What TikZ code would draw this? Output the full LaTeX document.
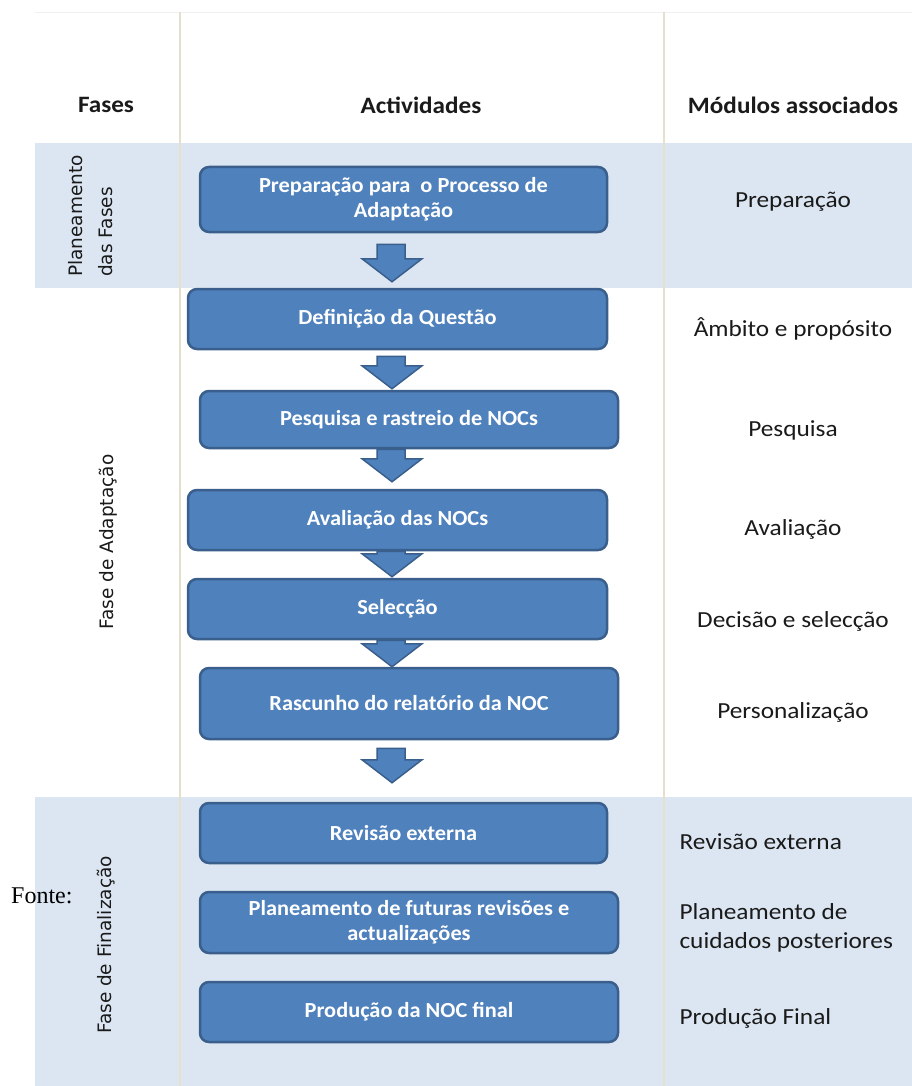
\documentclass[tikz,border=0pt]{standalone}
\usepackage{fontspec}
\setmainfont[FakeStretch=1.1]{Carlito}
\newfontfamily\boxfont[FakeStretch=1.04]{Carlito}
\newfontfamily\headfont[FakeStretch=1.07]{Carlito}
\newfontfamily\phasefont{DejaVu Sans}
\newfontfamily\seriffont{Liberation Serif}
\usetikzlibrary{calc}

\definecolor{band}{HTML}{DCE6F2}
\definecolor{boxfill}{HTML}{4F81BD}
\definecolor{boxline}{HTML}{3A5F8C}
\definecolor{rulecol}{HTML}{E6DFCB}
\definecolor{txt}{HTML}{1A1A1A}

\tikzset{
  stepbox/.style={draw=boxline, fill=boxfill, line width=2.5pt, rounded corners=9pt,
    text=white, font=\boxfont\bfseries\fontsize{21.5}{25}\selectfont, align=center, inner sep=0pt},
  flowarrow/.style={draw=boxline, fill=boxfill, line width=1.5pt, line join=miter},
  header/.style={font=\headfont\bfseries\fontsize{23.5}{27}\selectfont, text=txt},
  module/.style={font=\fontsize{23}{29}\selectfont, text=txt},
  phase/.style={font=\phasefont\fontsize{18.5}{30}\selectfont, text=txt, rotate=90, align=left},
}

% block arrow between two activity boxes: #3 = gap below the upper box, #4 = gap above the lower box
\newcommand\flowstep[4]{%
  \draw[flowarrow] let \p1=(#1.south), \p2=(#2.north) in
    (377pt,{\y1-#3pt}) -- (405pt,{\y1-#3pt}) -- (405pt,{\y2+#4pt+23pt})
    -- (422pt,{\y2+#4pt+23pt}) -- (392pt,{\y2+#4pt}) -- (362pt,{\y2+#4pt+23pt})
    -- (377pt,{\y2+#4pt+23pt}) -- cycle;}

\begin{document}
\begin{tikzpicture}[x=1pt, y=-1pt]
  \useasboundingbox (0,0) rectangle (912,1086);
  \fill[white] (0,0) rectangle (912,1086);

  % phase bands and column rules
  \fill[band] (35,143) rectangle (912,288);
  \fill[band] (35,797) rectangle (912,1086);
  \draw[black!6, line width=0.8pt] (35,12) -- (912,12);
  \draw[rulecol, line width=1.5pt] (180,12) -- (180,1086);
  \draw[rulecol, line width=1.5pt] (664,12) -- (664,1086);

  % column headers
  \node[header] (hfases) at (106,105) {Fases};
  \node[header] (hact) at (421,105) {Actividades};
  \node[header] (hmod) at (793,105) {Módulos associados};

  % phases
  \node[phase] (ph1) at (91,216) {Planeamento\\das Fases};
  \node[phase] (ph2) at (108,542) {Fase de Adaptação};
  \node[phase] (ph3) at (106,945) {Fase de Finalização};

  % activities
  \node[stepbox, minimum width=407, minimum height=65] (b1) at (403.5,199.5) {Preparação para \ o Processo de\\Adaptação};
  \node[stepbox, minimum width=419, minimum height=60] (b2) at (397.5,319) {Definição da Questão};
  \node[stepbox, minimum width=418, minimum height=57] (b3) at (409,419.5) {Pesquisa e rastreio de NOCs};
  \node[stepbox, minimum width=419, minimum height=60] (b4) at (397.5,520) {Avaliação das NOCs};
  \node[stepbox, minimum width=419, minimum height=60] (b5) at (397.5,609) {Selecção};
  \node[stepbox, minimum width=418, minimum height=71] (b6) at (409,703.5) {Rascunho do relatório da NOC};
  \node[stepbox, minimum width=407, minimum height=60] (b7) at (403.5,833) {Revisão externa};
  \node[stepbox, minimum width=418, minimum height=61] (b8) at (409,922.5) {Planeamento de futuras revisões e\\actualizações};
  \node[stepbox, minimum width=418, minimum height=60] (b9) at (409,1012) {Produção da NOC final};

  % flow arrows
  \flowstep{b1}{b2}{11}{6}
  \flowstep{b2}{b3}{6}{1}
  \flowstep{b3}{b4}{0}{7}
  \flowstep{b4}{b5}{0}{1}
  \flowstep{b5}{b6}{0}{0}
  \flowstep{b6}{b7}{8}{19}

  % associated modules
  \node[module] (m1) at (793,202) {Preparação};
  \node[module] (m2) at (793,329) {Âmbito e propósito};
  \node[module] (m3) at (793,430) {Pesquisa};
  \node[module] (m4) at (793,529) {Avaliação};
  \node[module] (m5) at (793,621) {Decisão e selecção};
  \node[module] (m6) at (793,712) {Personalização};
  \node[module, anchor=west] (m7) at (676,842) {Revisão externa};
  \node[module, anchor=west, align=left] (m8) at (676,928) {Planeamento de\\cuidados posteriores};
  \node[module, anchor=west] (m9) at (676,1018) {Produção Final};

  % source note
  \node[font=\seriffont\fontsize{24}{24}\selectfont, anchor=base west, inner sep=0pt] (src) at (11,903) {Fonte:};
\end{tikzpicture}
\end{document}
